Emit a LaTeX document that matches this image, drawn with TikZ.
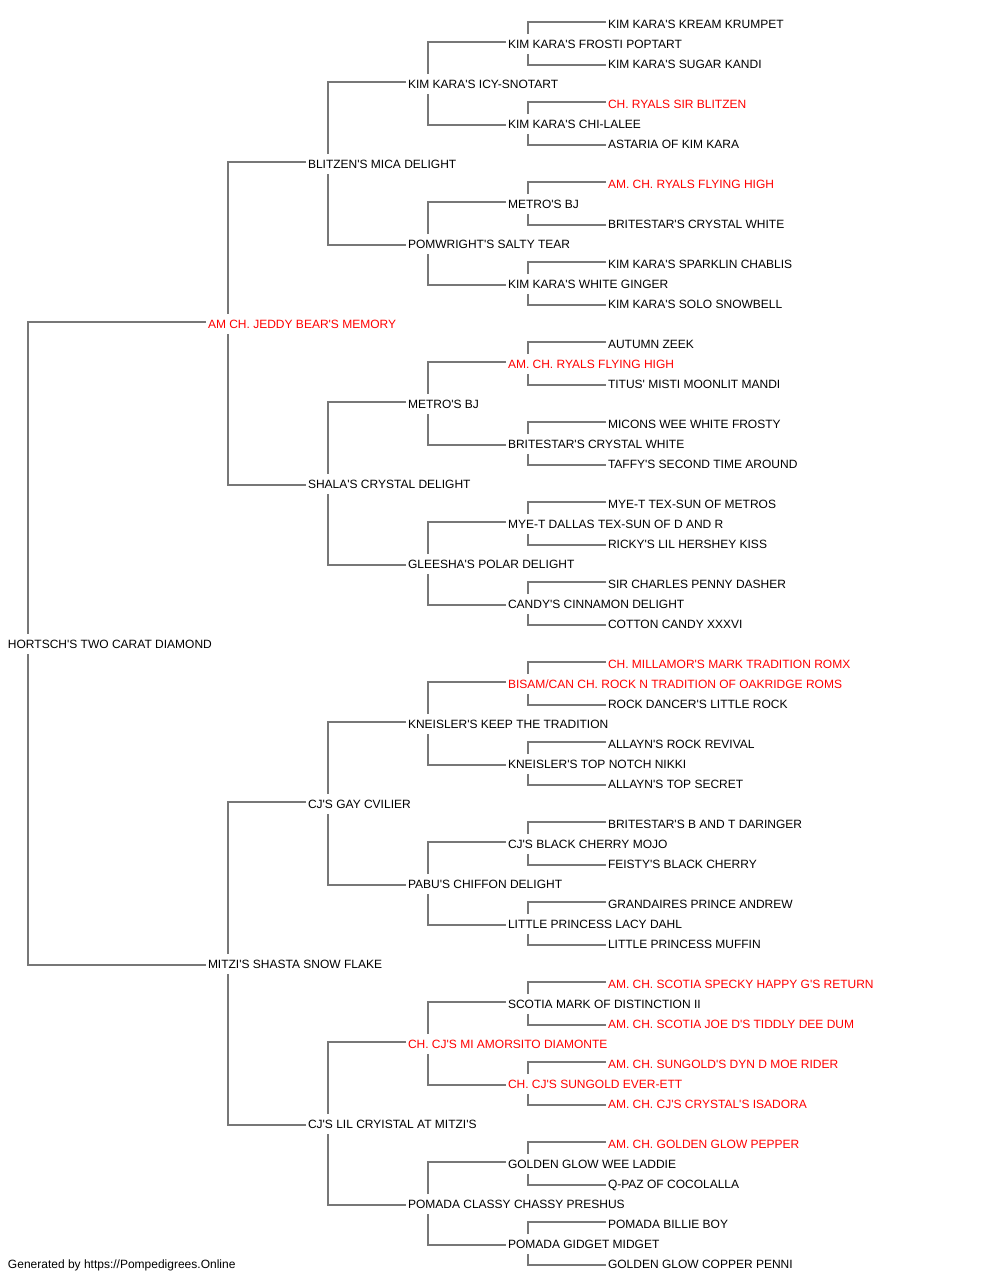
\documentclass[tikz,border=0pt]{standalone}
\usepackage{fontspec}
\setmainfont[Ligatures=TeXOff]{Liberation Sans}
\definecolor{linegray}{HTML}{777777}
\definecolor{redname}{HTML}{FF0000}
\tikzset{
  dog/.style={anchor=west, inner sep=0pt, outer sep=0pt, text height=8.6pt, text depth=0pt,
    font=\fontsize{12}{14}\selectfont, text=black},
  champ/.style={dog, text=redname},
  conn/.style={draw=linegray, line width=1.25pt}
}
\newcommand\linkparents[3]{%
  \draw[conn] ([shift={(-2,-2)}]#2.west) -| ([shift={(20,-10)}]#1.west);
  \draw[conn] ([shift={(-2,1)}]#3.west) -| ([shift={(20,10)}]#1.west);}
\begin{document}
\begin{tikzpicture}[x=1pt, y=-1pt]
\useasboundingbox (0,0) rectangle (1000,1280);
% generation 0
\node[dog] (r) at (8,644) {HORTSCH'S TWO CARAT DIAMOND};
% generation 1
\node[champ] (s) at (208,324) {AM CH. JEDDY BEAR'S MEMORY};
\node[dog] (d) at (208,964) {MITZI'S SHASTA SNOW FLAKE};
% generation 2
\node[dog] (ss) at (308,164) {BLITZEN'S MICA DELIGHT};
\node[dog] (sd) at (308,484) {SHALA'S CRYSTAL DELIGHT};
\node[dog] (ds) at (308,804) {CJ'S GAY CVILIER};
\node[dog] (dd) at (308,1124) {CJ'S LIL CRYISTAL AT MITZI'S};
% generation 3
\node[dog] (sss) at (408,84) {KIM KARA'S ICY-SNOTART};
\node[dog] (ssd) at (408,244) {POMWRIGHT'S SALTY TEAR};
\node[dog] (sds) at (408,404) {METRO'S BJ};
\node[dog] (sdd) at (408,564) {GLEESHA'S POLAR DELIGHT};
\node[dog] (dss) at (408,724) {KNEISLER'S KEEP THE TRADITION};
\node[dog] (dsd) at (408,884) {PABU'S CHIFFON DELIGHT};
\node[champ] (dds) at (408,1044) {CH. CJ'S MI AMORSITO DIAMONTE};
\node[dog] (ddd) at (408,1204) {POMADA CLASSY CHASSY PRESHUS};
% generation 4
\node[dog] (ssss) at (508,44) {KIM KARA'S FROSTI POPTART};
\node[dog] (sssd) at (508,124) {KIM KARA'S CHI-LALEE};
\node[dog] (ssds) at (508,204) {METRO'S BJ};
\node[dog] (ssdd) at (508,284) {KIM KARA'S WHITE GINGER};
\node[champ] (sdss) at (508,364) {AM. CH. RYALS FLYING HIGH};
\node[dog] (sdsd) at (508,444) {BRITESTAR'S CRYSTAL WHITE};
\node[dog] (sdds) at (508,524) {MYE-T DALLAS TEX-SUN OF D AND R};
\node[dog] (sddd) at (508,604) {CANDY'S CINNAMON DELIGHT};
\node[champ] (dsss) at (508,684) {BISAM/CAN CH. ROCK N TRADITION OF OAKRIDGE ROMS};
\node[dog] (dssd) at (508,764) {KNEISLER'S TOP NOTCH NIKKI};
\node[dog] (dsds) at (508,844) {CJ'S BLACK CHERRY MOJO};
\node[dog] (dsdd) at (508,924) {LITTLE PRINCESS LACY DAHL};
\node[dog] (ddss) at (508,1004) {SCOTIA MARK OF DISTINCTION II};
\node[champ] (ddsd) at (508,1084) {CH. CJ'S SUNGOLD EVER-ETT};
\node[dog] (ddds) at (508,1164) {GOLDEN GLOW WEE LADDIE};
\node[dog] (dddd) at (508,1244) {POMADA GIDGET MIDGET};
% generation 5
\node[dog] (sssss) at (608,24) {KIM KARA'S KREAM KRUMPET};
\node[dog] (ssssd) at (608,64) {KIM KARA'S SUGAR KANDI};
\node[champ] (sssds) at (608,104) {CH. RYALS SIR BLITZEN};
\node[dog] (sssdd) at (608,144) {ASTARIA OF KIM KARA};
\node[champ] (ssdss) at (608,184) {AM. CH. RYALS FLYING HIGH};
\node[dog] (ssdsd) at (608,224) {BRITESTAR'S CRYSTAL WHITE};
\node[dog] (ssdds) at (608,264) {KIM KARA'S SPARKLIN CHABLIS};
\node[dog] (ssddd) at (608,304) {KIM KARA'S SOLO SNOWBELL};
\node[dog] (sdsss) at (608,344) {AUTUMN ZEEK};
\node[dog] (sdssd) at (608,384) {TITUS' MISTI MOONLIT MANDI};
\node[dog] (sdsds) at (608,424) {MICONS WEE WHITE FROSTY};
\node[dog] (sdsdd) at (608,464) {TAFFY'S SECOND TIME AROUND};
\node[dog] (sddss) at (608,504) {MYE-T TEX-SUN OF METROS};
\node[dog] (sddsd) at (608,544) {RICKY'S LIL HERSHEY KISS};
\node[dog] (sddds) at (608,584) {SIR CHARLES PENNY DASHER};
\node[dog] (sdddd) at (608,624) {COTTON CANDY XXXVI};
\node[champ] (dssss) at (608,664) {CH. MILLAMOR'S MARK TRADITION ROMX};
\node[dog] (dsssd) at (608,704) {ROCK DANCER'S LITTLE ROCK};
\node[dog] (dssds) at (608,744) {ALLAYN'S ROCK REVIVAL};
\node[dog] (dssdd) at (608,784) {ALLAYN'S TOP SECRET};
\node[dog] (dsdss) at (608,824) {BRITESTAR'S B AND T DARINGER};
\node[dog] (dsdsd) at (608,864) {FEISTY'S BLACK CHERRY};
\node[dog] (dsdds) at (608,904) {GRANDAIRES PRINCE ANDREW};
\node[dog] (dsddd) at (608,944) {LITTLE PRINCESS MUFFIN};
\node[champ] (ddsss) at (608,984) {AM. CH. SCOTIA SPECKY HAPPY G'S RETURN};
\node[champ] (ddssd) at (608,1024) {AM. CH. SCOTIA JOE D'S TIDDLY DEE DUM};
\node[champ] (ddsds) at (608,1064) {AM. CH. SUNGOLD'S DYN D MOE RIDER};
\node[champ] (ddsdd) at (608,1104) {AM. CH. CJ'S CRYSTAL'S ISADORA};
\node[champ] (dddss) at (608,1144) {AM. CH. GOLDEN GLOW PEPPER};
\node[dog] (dddsd) at (608,1184) {Q-PAZ OF COCOLALLA};
\node[dog] (dddds) at (608,1224) {POMADA BILLIE BOY};
\node[dog] (ddddd) at (608,1264) {GOLDEN GLOW COPPER PENNI};
% footer
\node[dog] (footer) at (8,1264) {Generated by https://Pompedigrees.Online};
% connectors
\linkparents{r}{s}{d}
\linkparents{s}{ss}{sd}
\linkparents{d}{ds}{dd}
\linkparents{ss}{sss}{ssd}
\linkparents{sd}{sds}{sdd}
\linkparents{ds}{dss}{dsd}
\linkparents{dd}{dds}{ddd}
\linkparents{sss}{ssss}{sssd}
\linkparents{ssd}{ssds}{ssdd}
\linkparents{sds}{sdss}{sdsd}
\linkparents{sdd}{sdds}{sddd}
\linkparents{dss}{dsss}{dssd}
\linkparents{dsd}{dsds}{dsdd}
\linkparents{dds}{ddss}{ddsd}
\linkparents{ddd}{ddds}{dddd}
\linkparents{ssss}{sssss}{ssssd}
\linkparents{sssd}{sssds}{sssdd}
\linkparents{ssds}{ssdss}{ssdsd}
\linkparents{ssdd}{ssdds}{ssddd}
\linkparents{sdss}{sdsss}{sdssd}
\linkparents{sdsd}{sdsds}{sdsdd}
\linkparents{sdds}{sddss}{sddsd}
\linkparents{sddd}{sddds}{sdddd}
\linkparents{dsss}{dssss}{dsssd}
\linkparents{dssd}{dssds}{dssdd}
\linkparents{dsds}{dsdss}{dsdsd}
\linkparents{dsdd}{dsdds}{dsddd}
\linkparents{ddss}{ddsss}{ddssd}
\linkparents{ddsd}{ddsds}{ddsdd}
\linkparents{ddds}{dddss}{dddsd}
\linkparents{dddd}{dddds}{ddddd}
\end{tikzpicture}
\end{document}
